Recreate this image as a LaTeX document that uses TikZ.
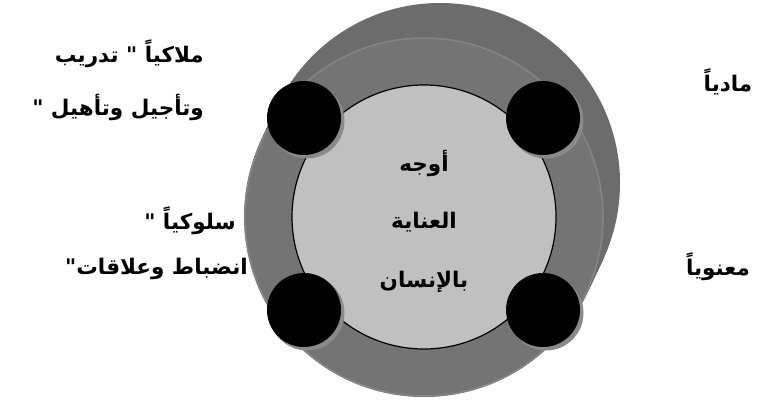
\documentclass[tikz,border=0pt]{standalone}
\usepackage{fontspec}
\newfontfamily\arabicfont[Script=Arabic]{DejaVu Sans}
\TeXXeTstate=1
\definecolor{backgray}{HTML}{6C6C6C}
\definecolor{frontgray}{HTML}{747474}
\definecolor{rimgray}{HTML}{858585}
\definecolor{innergray}{HTML}{C0C0C0}
\definecolor{shadowgray}{HTML}{8A8A8A}
\begin{document}
\begin{tikzpicture}[x=1pt,y=-1pt,
  lbl/.style={font=\arabicfont\bfseries\fontsize{21.5}{24}\selectfont, inner sep=0pt},
  knob/.style={circle, fill=black, minimum size=74pt, inner sep=0pt},
  knobshadow/.style={circle, fill=shadowgray, minimum size=75pt, inner sep=0pt}]
\useasboundingbox (0,0) rectangle (759,401);
% extruded disk
\foreach \t in {0,0.05,...,1.0001}{
  \fill[backgray] ({440-16*\t},{183+34*\t}) circle (180);
}
\fill[frontgray, draw=rimgray, line width=1.5pt] (424,217) circle (179);
% inner circle
\node[circle, fill=innergray, draw=black, line width=1.2pt, minimum size=264pt, inner sep=0pt] (inner) at (424,217) {};
% knobs
\foreach \n/\x/\y in {tl/304/118, tr/543/118, bl/304/310, br/543/310}{
  \node[knobshadow] (\n s) at (\x+3,\y+3) {};
  \node[knob] (\n) at (\x,\y) {};
}
% center text
\node[lbl] (c1) at (424,163) {\beginR أوجه\endR};
\node[lbl] (c2) at (424,222) {\beginR العناية\endR};
\node[lbl] (c3) at (424,282) {\beginR بالإنسان\endR};
% right labels
\node[lbl] (madi) at (728,82) {\beginR مادياً\endR};
\node[lbl] (maanawi) at (718,267) {\beginR معنوياً\endR};
% left labels
\node[lbl, anchor=east] (m1) at (204,54) {\beginR ملاكياً " تدريب\endR};
\node[lbl, anchor=east] (m2) at (204,107) {\beginR وتأجيل وتأهيل "\endR};
\node[lbl] (s1) at (190,221) {\beginR سلوكياً "\endR};
\node[lbl, anchor=east] (s2) at (248,269) {\beginR انضباط وعلاقات"\endR};
\end{tikzpicture}
\end{document}
